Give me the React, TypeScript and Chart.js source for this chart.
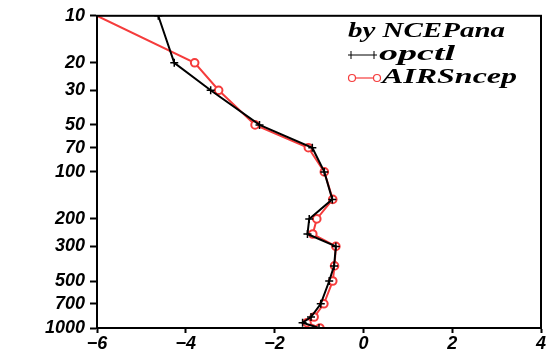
import React, { useEffect, useRef } from "react";
import { Chart, registerables } from "chart.js";

Chart.register(...registerables);

const levels = [10, 20, 30, 50, 70, 100, 150, 200, 250, 300, 400, 500, 700, 850, 925, 1000];
const opctl = [-4.62, -4.26, -3.44, -2.34, -1.15, -0.88, -0.7, -1.22, -1.26, -0.62, -0.66, -0.77, -0.96, -1.18, -1.37, -1.0];
const airsncep = [-6.0, -3.8, -3.26, -2.44, -1.24, -0.88, -0.69, -1.05, -1.14, -0.62, -0.65, -0.69, -0.89, -1.11, -1.27, -0.98];
const yTickValues = [10, 20, 30, 50, 70, 100, 200, 300, 500, 700, 1000];
const xMin = -6;
const xMax = 4;
const xStep = 2;
const legendTitle = "by NCEPana";
const seriesNames = ["opctl", "AIRSncep"];

const RED = "rgb(245,60,60)";

function drawStretched(ctx: CanvasRenderingContext2D, text: string, x: number, y: number, width: number) {
  ctx.save();
  const w = ctx.measureText(text).width;
  const sx = width / w;
  ctx.translate(x, y);
  ctx.scale(sx, 1);
  ctx.fillText(text, 0, 0);
  ctx.restore();
}

const framePlugin = {
  id: "frame",
  afterDraw(chart: any) {
    const { ctx, chartArea } = chart;
    ctx.save();
    ctx.strokeStyle = "#000";
    ctx.lineWidth = 2;
    ctx.strokeRect(chartArea.left, chartArea.top, chartArea.right - chartArea.left, chartArea.bottom - chartArea.top);

    // legend
    ctx.fillStyle = "#000";
    ctx.font = "bold italic 20px 'Liberation Serif'";
    ctx.textBaseline = "middle";
    drawStretched(ctx, legendTitle, 348, 32, 157);

    // opctl sample
    ctx.strokeStyle = "#000";
    ctx.lineWidth = 1;
    ctx.beginPath();
    ctx.moveTo(348, 55);
    ctx.lineTo(377, 55);
    ctx.moveTo(351, 51);
    ctx.lineTo(351, 59);
    ctx.moveTo(374, 51);
    ctx.lineTo(374, 59);
    ctx.stroke();
    drawStretched(ctx, seriesNames[0], 379, 55, 76);

    // AIRSncep sample
    ctx.strokeStyle = RED;
    ctx.lineWidth = 1.2;
    ctx.beginPath();
    ctx.moveTo(355, 78);
    ctx.lineTo(374, 78);
    ctx.stroke();
    ctx.beginPath();
    ctx.arc(352, 78, 3.5, 0, Math.PI * 2);
    ctx.stroke();
    ctx.beginPath();
    ctx.arc(377, 78, 3.5, 0, Math.PI * 2);
    ctx.stroke();
    ctx.fillStyle = "#000";
    drawStretched(ctx, seriesNames[1], 382, 78, 135);
    ctx.restore();
  },
};

export default function App() {
  const ref = useRef<HTMLCanvasElement | null>(null);
  useEffect(() => {
    if (!ref.current) return;
    const tickFont = { family: "'Liberation Sans'", size: 18, weight: "bold" as const, style: "italic" as const };
    const chart = new Chart(ref.current, {
      type: "line",
      data: {
        datasets: [
          {
            label: seriesNames[0],
            data: levels.map((p, i) => ({ x: opctl[i], y: p })),
            borderColor: "#000",
            borderWidth: 2,
            pointStyle: "cross",
            pointRadius: 4,
            pointBorderWidth: 1.5,
            pointBorderColor: "#000",
            clip: 0,
          },
          {
            label: seriesNames[1],
            data: levels.map((p, i) => ({ x: airsncep[i], y: p })),
            borderColor: RED,
            borderWidth: 2,
            pointStyle: "circle",
            pointRadius: (c: any) => (c.dataIndex === 0 ? 0 : 3.8),
            pointBackgroundColor: "#fff",
            pointBorderColor: RED,
            pointBorderWidth: 2,
            clip: 0,
          },
        ],
      },
      options: {
        responsive: false,
        animation: false,
        parsing: true,
        layout: { padding: { top: 13, right: 4, left: 0, bottom: 0 } },
        plugins: { legend: { display: false }, tooltip: { enabled: false } },
        scales: {
          x: {
            type: "linear",
            min: xMin,
            max: xMax,
            afterFit: (s: any) => {
              s.height = 26;
            },
            afterBuildTicks: (s: any) => {
              const t = [];
              for (let v = xMin; v <= xMax; v += xStep) t.push({ value: v });
              s.ticks = t;
            },
            ticks: {
              color: "#000",
              font: tickFont,
              padding: 0,
              maxRotation: 0,
              autoSkip: false,
              callback: (v: any) => String(v).replace("-", "\u2212"),
            },
            grid: { drawOnChartArea: false, drawTicks: true, tickLength: 5, tickWidth: 2, tickColor: "#000" },
            border: { display: true, color: "#000", width: 2 },
          },
          y: {
            type: "logarithmic",
            reverse: true,
            min: 10,
            max: 1000,
            afterFit: (s: any) => {
              s.width = 97;
            },
            afterBuildTicks: (s: any) => {
              s.ticks = yTickValues.map((v) => ({ value: v }));
            },
            ticks: {
              color: "#000",
              font: tickFont,
              padding: 5,
              autoSkip: false,
              callback: (v: any) => String(v),
            },
            grid: { drawOnChartArea: false, drawTicks: true, tickLength: 7, tickWidth: 2, tickColor: "#000" },
            border: { display: true, color: "#000", width: 2 },
          },
        },
      },
      plugins: [framePlugin],
    } as any);
    return () => chart.destroy();
  }, []);
  return (
    <div style={{ position: "fixed", left: 0, top: 0, width: 547, height: 354, background: "#fff" }}>
      <canvas ref={ref} width={547} height={354} style={{ display: "block" }} />
    </div>
  );
}
